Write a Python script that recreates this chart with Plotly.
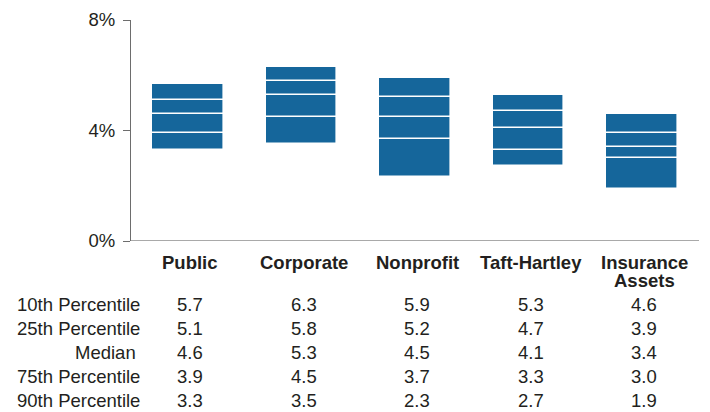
import plotly.graph_objects as go

categories = ["Public", "Corporate", "Nonprofit", "Taft-Hartley", "Insurance<br>Assets"]
p10 = [5.7, 6.3, 5.9, 5.3, 4.6]
p25 = [5.1, 5.8, 5.2, 4.7, 3.9]
median = [4.6, 5.3, 4.5, 4.1, 3.4]
p75 = [3.9, 4.5, 3.7, 3.3, 3.0]
p90 = [3.3, 3.5, 2.3, 2.7, 1.9]
row_labels = ["10th Percentile", "25th Percentile", "Median", "75th Percentile", "90th Percentile"]
y_ticks = [0, 4, 8]
y_tick_text = ["0%", "4%", "8%"]

BLUE = "#15669b"
TXT = "#231f20"
FONT = "Liberation Sans, Arial, sans-serif"

OFF = 8  # default page body margin
W, H = 710 - OFF, 412 - OFF
L, T = 131 - OFF, 20 - OFF
R = W - (699 - OFF)
B = H - (241 - OFF)
plot_h = H - T - B
plot_w = W - L - R

xs = list(range(len(categories)))

fig = go.Figure()
bounds = [p90, p75, median, p25, p10]
for lo, hi in zip(bounds[:-1], bounds[1:]):
    fig.add_trace(go.Bar(
        x=xs, base=lo, y=[h - l for h, l in zip(hi, lo)],
        marker=dict(color=BLUE, line=dict(color="white", width=1.6)),
        width=0.63, showlegend=False, hoverinfo="skip",
    ))


def py_to_paper(py):
    # py given in page pixels
    return (241 - py) / plot_h


def px_to_paper(px):
    return (px - 131) / plot_w


annotations = []
for i, c in enumerate(categories):
    lines = c.split("<br>")
    for j, ln in enumerate(lines):
        annotations.append(dict(
            x=i + 0.02, xref="x", y=py_to_paper(262 + 18 * j), yref="paper",
            text=f"<b>{ln}</b>", showarrow=False, xanchor="center", yanchor="middle",
            font=dict(family=FONT, size=18.5, color=TXT),
        ))

table = [p10, p25, median, p75, p90]
row_y = [304, 328, 352, 376, 400]
for lab, vals, yy in zip(row_labels, table, row_y):
    rx = 138 if lab == "Median" else 142
    annotations.append(dict(
        x=px_to_paper(rx), xref="paper", y=py_to_paper(yy), yref="paper",
        text=lab, showarrow=False, xanchor="right", yanchor="middle",
        font=dict(family=FONT, size=18.5, color=TXT),
    ))
    for i, v in enumerate(vals):
        annotations.append(dict(
            x=i + 0.02, xref="x", y=py_to_paper(yy), yref="paper",
            text=f"{v:.1f}", showarrow=False, xanchor="center", yanchor="middle",
            font=dict(family=FONT, size=18.5, color=TXT),
        ))

fig.update_layout(
    width=W, height=H,
    margin=dict(l=L, r=R, t=T, b=B, pad=0, autoexpand=False),
    paper_bgcolor="white", plot_bgcolor="white",
    barmode="overlay", bargap=0,
    annotations=annotations,
    xaxis=dict(range=[-0.5, len(categories) - 0.5], showticklabels=False, ticks="",
               showgrid=False, zeroline=False, showline=False, fixedrange=True,
               automargin=False),
    yaxis=dict(range=[0, 8], tickvals=y_ticks, ticktext=y_tick_text,
               ticks="outside", ticklen=7, tickcolor="#6d6d6d", tickwidth=1,
               showline=True, linecolor="#6d6d6d", linewidth=1.2,
               showgrid=False, zeroline=False, automargin=False,
               tickfont=dict(family=FONT, size=18.5, color=TXT), ticklabelstandoff=4),
    shapes=[dict(type="line", xref="paper", yref="y", x0=0, x1=1, y0=0, y1=0,
                 line=dict(color="#555555", width=1.2))],
)

fig.write_html("out.html", post_script="document.body.style.overflow='hidden';")
